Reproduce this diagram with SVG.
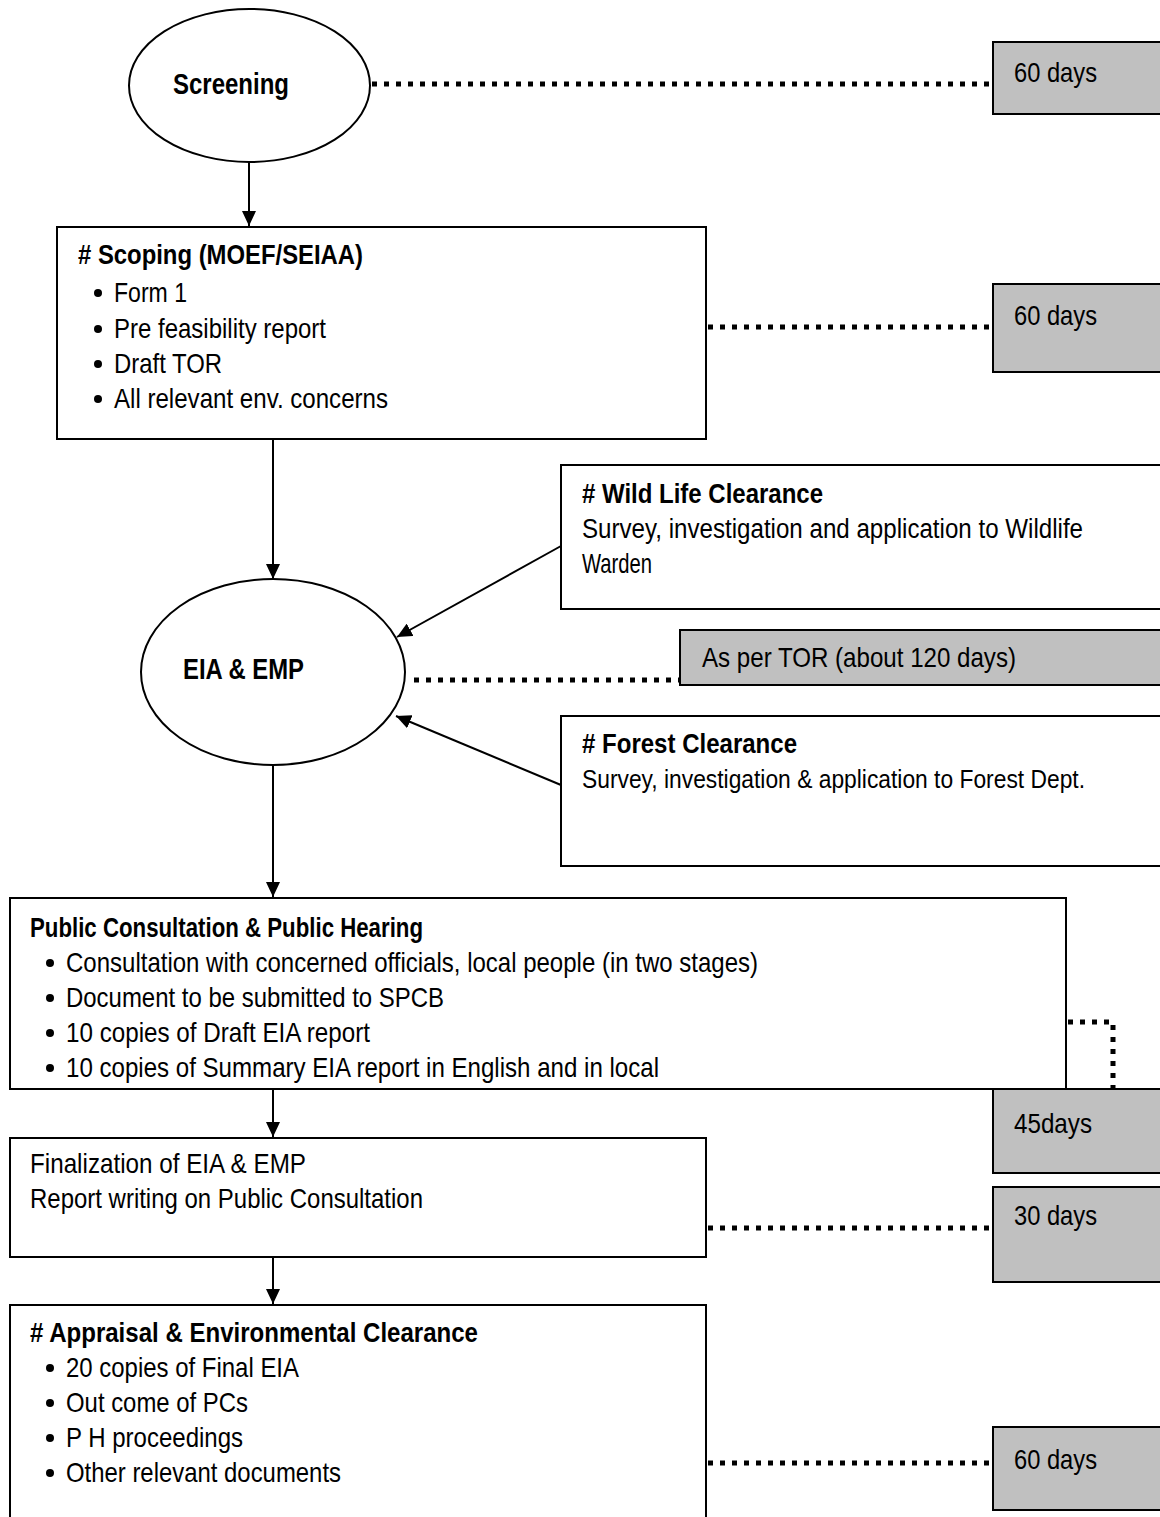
<svg xmlns="http://www.w3.org/2000/svg" width="1160" height="1517" viewBox="0 0 1160 1517">
<style>
.n{fill:#fff;stroke:#000;stroke-width:2}
.g{fill:#c0c0c0;stroke:#000;stroke-width:2}
.t{font-family:"Liberation Sans Narrow","Liberation Sans",Arial,sans-serif;font-size:28px;fill:#000}
.b{font-weight:bold}
.big{font-size:30px}
.gt{font-size:28px}
.sm{font-size:27px}
.xs{font-size:26px}
.d{fill:none;stroke:#000;stroke-width:5;stroke-dasharray:5 7}
.a{fill:none;stroke:#000;stroke-width:2;marker-end:url(#ah)}
.bu{fill:#000}
</style>
<defs>
<marker id="ah" markerUnits="userSpaceOnUse" markerWidth="15" markerHeight="14" refX="15" refY="7" orient="auto">
<path d="M0,0 L15,7 L0,14 z" fill="#000"/>
</marker>
</defs>
<rect width="1160" height="1517" fill="#fff"/>

<g id="connectors">
<line class="a" x1="249" y1="162" x2="249" y2="226"/>
<line class="a" x1="273" y1="439" x2="273" y2="579"/>
<line class="a" x1="561" y1="546" x2="397" y2="637"/>
<line class="a" x1="561" y1="785" x2="396" y2="716"/>
<line class="a" x1="273" y1="765" x2="273" y2="897"/>
<line class="a" x1="273" y1="1089" x2="273" y2="1137"/>
<line class="a" x1="273" y1="1257" x2="273" y2="1304"/>
<line class="d" x1="372" y1="84" x2="990" y2="84"/>
<line class="d" x1="708" y1="327" x2="990" y2="327"/>
<line class="d" x1="414" y1="680" x2="680" y2="680"/>
<polyline class="d" points="1068,1022 1113,1022 1113,1088"/>
<line class="d" x1="708" y1="1228" x2="990" y2="1228"/>
<line class="d" x1="708" y1="1463" x2="990" y2="1463"/>
</g>

<g id="screening">
<ellipse class="n" cx="249.5" cy="85.5" rx="120.5" ry="76.5"/>
<text class="t b big" x="173" y="94" textLength="116" lengthAdjust="spacingAndGlyphs">Screening</text>
</g>

<g id="d1">
<rect class="g" x="993" y="42" width="170" height="72"/>
<text class="t gt" x="1014" y="82" textLength="83" lengthAdjust="spacingAndGlyphs">60 days</text>
</g>

<g id="scoping">
<rect class="n" x="57" y="227" width="649" height="212"/>
<text class="t b" x="78" y="264" textLength="285" lengthAdjust="spacingAndGlyphs"># Scoping (MOEF/SEIAA)</text>
<circle class="bu" cx="98" cy="293" r="4"/>
<text class="t" x="114" y="302" textLength="73" lengthAdjust="spacingAndGlyphs">Form 1</text>
<circle class="bu" cx="98" cy="329" r="4"/>
<text class="t" x="114" y="338" textLength="212" lengthAdjust="spacingAndGlyphs">Pre feasibility report</text>
<circle class="bu" cx="98" cy="364" r="4"/>
<text class="t" x="114" y="373" textLength="108" lengthAdjust="spacingAndGlyphs">Draft TOR</text>
<circle class="bu" cx="98" cy="399" r="4"/>
<text class="t" x="114" y="408" textLength="274" lengthAdjust="spacingAndGlyphs">All relevant env. concerns</text>
</g>

<g id="d2">
<rect class="g" x="993" y="284" width="170" height="88"/>
<text class="t gt" x="1014" y="325" textLength="83" lengthAdjust="spacingAndGlyphs">60 days</text>
</g>

<g id="wildlife">
<rect class="n" x="561" y="465" width="602" height="144"/>
<text class="t b" x="582" y="503" textLength="241" lengthAdjust="spacingAndGlyphs"># Wild Life Clearance</text>
<text class="t sm" x="582" y="538" textLength="501" lengthAdjust="spacingAndGlyphs">Survey, investigation and application to Wildlife</text>
<text class="t" x="582" y="573" textLength="70" lengthAdjust="spacingAndGlyphs">Warden</text>
</g>

<g id="eia">
<ellipse class="n" cx="273" cy="672" rx="132" ry="93"/>
<text class="t b big" x="183" y="679" textLength="121" lengthAdjust="spacingAndGlyphs">EIA &amp; EMP</text>
</g>

<g id="d3">
<rect class="g" x="680" y="630" width="483" height="55"/>
<text class="t gt" x="702" y="667" textLength="314" lengthAdjust="spacingAndGlyphs">As per TOR (about 120 days)</text>
</g>

<g id="forest">
<rect class="n" x="561" y="716" width="602" height="150"/>
<text class="t b" x="582" y="753" textLength="215" lengthAdjust="spacingAndGlyphs"># Forest Clearance</text>
<text class="t xs" x="582" y="788" textLength="503" lengthAdjust="spacingAndGlyphs">Survey, investigation &amp; application to Forest Dept.</text>
</g>

<g id="public">
<rect class="n" x="10" y="898" width="1056" height="191"/>
<text class="t b" x="30" y="937" textLength="393" lengthAdjust="spacingAndGlyphs">Public Consultation &amp; Public Hearing</text>
<circle class="bu" cx="50" cy="963" r="4"/>
<text class="t" x="66" y="972" textLength="692" lengthAdjust="spacingAndGlyphs">Consultation with concerned officials, local people (in two stages)</text>
<circle class="bu" cx="50" cy="998" r="4"/>
<text class="t" x="66" y="1007" textLength="378" lengthAdjust="spacingAndGlyphs">Document to be submitted to SPCB</text>
<circle class="bu" cx="50" cy="1033" r="4"/>
<text class="t" x="66" y="1042" textLength="304" lengthAdjust="spacingAndGlyphs">10 copies of Draft EIA report</text>
<circle class="bu" cx="50" cy="1068" r="4"/>
<text class="t" x="66" y="1077" textLength="593" lengthAdjust="spacingAndGlyphs">10 copies of Summary EIA report in English and in local</text>
</g>

<g id="d4">
<rect class="g" x="993" y="1089" width="170" height="84"/>
<text class="t gt" x="1014" y="1133" textLength="78" lengthAdjust="spacingAndGlyphs">45days</text>
</g>

<g id="final">
<rect class="n" x="10" y="1138" width="696" height="119"/>
<text class="t" x="30" y="1173" textLength="276" lengthAdjust="spacingAndGlyphs">Finalization of EIA &amp; EMP</text>
<text class="t" x="30" y="1208" textLength="393" lengthAdjust="spacingAndGlyphs">Report writing on Public Consultation</text>
</g>

<g id="d5">
<rect class="g" x="993" y="1187" width="170" height="95"/>
<text class="t gt" x="1014" y="1225" textLength="83" lengthAdjust="spacingAndGlyphs">30 days</text>
</g>

<g id="appraisal">
<rect class="n" x="10" y="1305" width="696" height="220"/>
<text class="t b" x="30" y="1342" textLength="448" lengthAdjust="spacingAndGlyphs"># Appraisal &amp; Environmental Clearance</text>
<circle class="bu" cx="50" cy="1368" r="4"/>
<text class="t" x="66" y="1377" textLength="233" lengthAdjust="spacingAndGlyphs">20 copies of Final EIA</text>
<circle class="bu" cx="50" cy="1403" r="4"/>
<text class="t" x="66" y="1412" textLength="182" lengthAdjust="spacingAndGlyphs">Out come of PCs</text>
<circle class="bu" cx="50" cy="1438" r="4"/>
<text class="t" x="66" y="1447" textLength="177" lengthAdjust="spacingAndGlyphs">P H proceedings</text>
<circle class="bu" cx="50" cy="1473" r="4"/>
<text class="t" x="66" y="1482" textLength="275" lengthAdjust="spacingAndGlyphs">Other relevant documents</text>
</g>

<g id="d6">
<rect class="g" x="993" y="1427" width="170" height="83"/>
<text class="t gt" x="1014" y="1469" textLength="83" lengthAdjust="spacingAndGlyphs">60 days</text>
</g>
</svg>
